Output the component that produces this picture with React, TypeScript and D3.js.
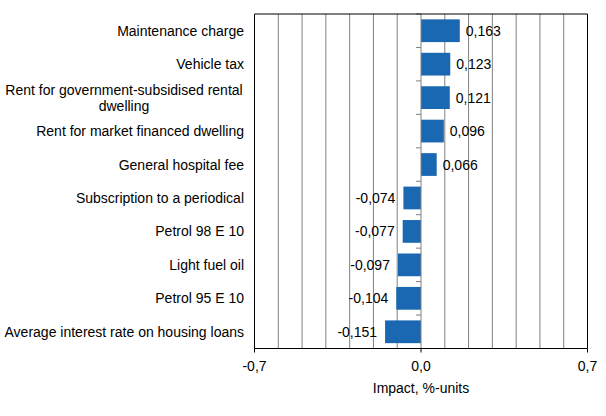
import React, { useEffect, useRef } from 'react';
import * as d3 from 'd3';

const categories = [
  'Maintenance charge',
  'Vehicle tax',
  'Rent for government-subsidised rental|dwelling',
  'Rent for market financed dwelling',
  'General hospital fee',
  'Subscription to a periodical',
  'Petrol 98 E 10',
  'Light fuel oil',
  'Petrol 95 E 10',
  'Average interest rate on housing loans',
];
const values = [0.163, 0.123, 0.121, 0.096, 0.066, -0.074, -0.077, -0.097, -0.104, -0.151];
const xTicks = [-0.7, 0, 0.7];
const gridTicks = [-0.6, -0.5, -0.4, -0.3, -0.2, -0.1, 0.1, 0.2, 0.3, 0.4, 0.5, 0.6];
const xTitle = 'Impact, %-units';

const W = 606;
const H = 416;
const fmt = (v: number, p: string) => d3.format(p)(v).replace('.', ',').replace('−', '-');

export default function App() {
  const ref = useRef<SVGSVGElement>(null);

  useEffect(() => {
    const svg = d3.select(ref.current);
    svg.selectAll('*').remove();
    const left = 254.5, right = 587.5, top = 14, bottom = 348.5;

    const x = d3.scaleLinear().domain([-0.7, 0.7]).range([left, right]);
    const y = d3.scaleBand<number>().domain(d3.range(categories.length)).range([top, bottom]).paddingInner(0.32).paddingOuter(0.16);
    const band = d3.scaleBand<number>().domain(d3.range(categories.length)).range([top, bottom]);

    const g = svg.append('g').attr('font-family', 'Liberation Sans, Arial, sans-serif').attr('font-size', 14).attr('fill', '#000');

    // gridlines
    g.selectAll('line.grid').data(gridTicks).join('line')
      .attr('x1', d => x(d)).attr('x2', d => x(d)).attr('y1', top).attr('y2', bottom)
      .attr('stroke', '#808080').attr('stroke-width', 1);

    // bars
    g.selectAll('rect.bar').data(values).join('rect')
      .attr('x', d => Math.min(x(0), x(d)))
      .attr('width', d => Math.abs(x(d) - x(0)))
      .attr('y', (d, i) => y(i)!)
      .attr('height', y.bandwidth())
      .attr('fill', '#1a68b1');

    // zero line with category ticks
    g.append('line').attr('x1', x(0)).attr('x2', x(0)).attr('y1', top).attr('y2', bottom)
      .attr('stroke', '#808080');
    g.selectAll('line.ctick').data(d3.range(categories.length + 1)).join('line')
      .attr('x1', x(0) - 5).attr('x2', x(0))
      .attr('y1', i => top + i * band.step()).attr('y2', i => top + i * band.step())
      .attr('stroke', '#808080');

    // frame
    g.append('path')
      .attr('d', `M${left},${bottom}V${top}H${right}V${bottom}`)
      .attr('fill', 'none').attr('stroke', '#000');
    g.append('line').attr('x1', left).attr('x2', right).attr('y1', bottom).attr('y2', bottom).attr('stroke', '#000');
    g.selectAll('line.xtick').data(xTicks).join('line')
      .attr('x1', d => x(d)).attr('x2', d => x(d)).attr('y1', bottom).attr('y2', bottom + 4)
      .attr('stroke', '#000');

    // x tick labels
    g.selectAll('text.xt').data(xTicks).join('text')
      .attr('x', d => x(d)).attr('y', bottom + 22).attr('text-anchor', 'middle')
      .text(d => fmt(d, '.1f'));
    g.append('text').attr('x', x(0)).attr('y', bottom + 44).attr('text-anchor', 'middle').text(xTitle);

    // value labels
    g.selectAll('text.val').data(values).join('text')
      .attr('x', d => d >= 0 ? x(d) + 6 : x(d) - 8)
      .attr('y', (d, i) => y(i)! + y.bandwidth() / 2 + 5)
      .attr('text-anchor', d => d >= 0 ? 'start' : 'end')
      .text(d => fmt(d, '.3f'));

    // category labels
    categories.forEach((c, i) => {
      const lines = c.split('|');
      const cy = y(i)! + y.bandwidth() / 2;
      lines.forEach((ln, j) => {
        const yy = cy + 5 + (j - (lines.length - 1) / 2) * 16;
        g.append('text')
          .attr('x', lines.length > 1 ? 124 : 244)
          .attr('y', yy)
          .attr('text-anchor', lines.length > 1 ? 'middle' : 'end')
          .text(ln);
      });
    });
  }, []);

  return (
    <div style={{ position: 'absolute', left: 0, top: 0 }}>
      <svg ref={ref} width={W} height={H} style={{ display: 'block', background: '#fff' }} />
    </div>
  );
}
